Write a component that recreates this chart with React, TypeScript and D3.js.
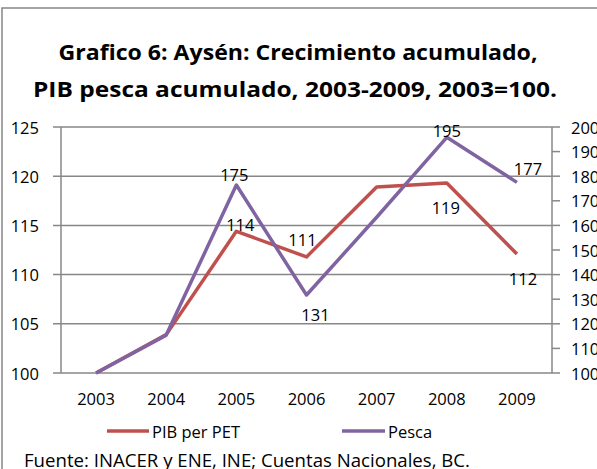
import React from "react";
import * as d3 from "d3";

const years = ["2003", "2004", "2005", "2006", "2007", "2008", "2009"];
const pibPerPet = [100, 103.9, 114.4, 111.8, 118.9, 119.3, 112.1];
const pesca = [100, 115.4, 176.4, 131.7, 163.3, 195.8, 177.5];
const leftTicks = [100, 105, 110, 115, 120, 125];
const rightTicks = [100, 110, 120, 130, 140, 150, 160, 170, 180, 190, 200];
// data labels: [yearIndex, text]
const pibLabels: [number, string][] = [[2, "114"], [3, "111"], [5, "119"], [6, "112"]];
const pescaLabels: [number, string][] = [[2, "175"], [3, "131"], [5, "195"], [6, "177"]];
// label offsets (style)
const pibOffsets = [[4, -7], [-4, -17], [-1, 24], [6, 25]];
const pescaOffsets = [[-2, -11], [9, 19], [0, -7], [11, -14]];

const RED = "#C0504D";
const PURPLE = "#8064A2";
const GRID = "#878787";
const FONT = "'Open Sans', 'Liberation Sans', sans-serif";

export default function App() {
  const left = 61, right = 552, top = 127, bottom = 373;
  const x = d3.scaleBand<string>().domain(years).range([left, right]).padding(0);
  const cx = (y: string) => (x(y) as number) + x.bandwidth() / 2;
  const yL = d3.scaleLinear().domain([100, 125]).range([bottom, top]);
  const yR = d3.scaleLinear().domain([100, 200]).range([bottom, top]);

  const lineL = d3.line<number>().x((_, i) => cx(years[i])).y((d) => yL(d));
  const lineR = d3.line<number>().x((_, i) => cx(years[i])).y((d) => yR(d));

  return (
    <svg width={597} height={469} style={{ position: "absolute", left: 0, top: 0, background: "#fff" }}>
      <rect x={2} y={8} width={610} height={480} fill="#fff" stroke="#868686" strokeWidth={1.5} />
      <g fontFamily={FONT} fontWeight="bold" fontSize={22} fill="#000" textAnchor="middle">
        <text x={298} y={60} textLength={479} lengthAdjust="spacingAndGlyphs">Grafico 6: Aysén: Crecimiento acumulado,</text>
        <text x={295} y={97} textLength={524} lengthAdjust="spacingAndGlyphs">PIB pesca acumulado, 2003-2009, 2003=100.</text>
      </g>
      {/* gridlines */}
      {leftTicks.map((t) => (
        <line key={"g" + t} x1={53} x2={right} y1={yL(t)} y2={yL(t)} stroke={GRID} strokeWidth={1.5} />
      ))}
      {/* left axis */}
      <line x1={left} x2={left} y1={top} y2={bottom} stroke={GRID} strokeWidth={1.5} />
      {/* right axis */}
      <line x1={right} x2={right} y1={top} y2={bottom} stroke={GRID} strokeWidth={1.5} />
      {rightTicks.map((t) => (
        <line key={"rt" + t} x1={right} x2={560} y1={yR(t)} y2={yR(t)} stroke={GRID} strokeWidth={1.5} />
      ))}
      <g fontFamily={FONT} fontSize={16.5} fill="#000">
        {leftTicks.map((t) => (
          <text key={"lt" + t} x={39} y={yL(t)} textAnchor="end" dominantBaseline="central">{t}</text>
        ))}
        {rightTicks.map((t) => (
          <text key={"rl" + t} x={571} y={yR(t)} textAnchor="start" dominantBaseline="central">{t}</text>
        ))}
        {years.map((yr) => (
          <text key={"x" + yr} x={cx(yr)} y={398} textAnchor="middle" dominantBaseline="central">{yr}</text>
        ))}
      </g>
      <path d={lineL(pibPerPet) as string} fill="none" stroke={RED} strokeWidth={3.5} strokeLinejoin="round" />
      <path d={lineR(pesca) as string} fill="none" stroke={PURPLE} strokeWidth={3.5} strokeLinejoin="round" />
      <g fontFamily={FONT} fontSize={16.5} fill="#000" textAnchor="middle">
        {pibLabels.map(([i, t], k) => (
          <text key={"pl" + k} x={cx(years[i]) + pibOffsets[k][0]} y={yL(pibPerPet[i]) + pibOffsets[k][1]} dominantBaseline="central">{t}</text>
        ))}
        {pescaLabels.map(([i, t], k) => (
          <text key={"ql" + k} x={cx(years[i]) + pescaOffsets[k][0]} y={yR(pesca[i]) + pescaOffsets[k][1]} dominantBaseline="central">{t}</text>
        ))}
      </g>
      {/* legend */}
      <g fontFamily={FONT} fontSize={16.5} fill="#000">
        <line x1={107} x2={149} y1={431} y2={431} stroke={RED} strokeWidth={3.5} />
        <text x={152} y={431} dominantBaseline="central" textLength={88} lengthAdjust="spacingAndGlyphs">PIB per PET</text>
        <line x1={342} x2={385} y1={431} y2={431} stroke={PURPLE} strokeWidth={3.5} />
        <text x={388} y={431} dominantBaseline="central">Pesca</text>
        <text x={24} y={467} fontSize={18} textLength={446} lengthAdjust="spacingAndGlyphs">Fuente: INACER y ENE, INE; Cuentas Nacionales, BC.</text>
      </g>
    </svg>
  );
}
